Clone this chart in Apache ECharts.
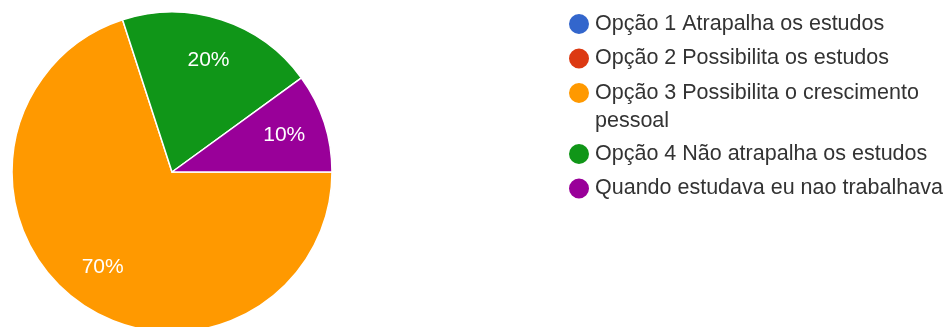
<!DOCTYPE html>
<html>
<head>
<meta charset="utf-8">
<script src="https://cdn.jsdelivr.net/npm/echarts@6/dist/echarts.min.js"></script>
<style>
html,body{margin:0;padding:0;background:#fff;}
#chart{width:947px;height:327px;}
</style>
</head>
<body>
<div id="chart"></div>
<script>
const categories = [
  'Opção 1 Atrapalha os estudos',
  'Opção 2 Possibilita os estudos',
  'Opção 3 Possibilita o crescimento pessoal',
  'Opção 4 Não atrapalha os estudos',
  'Quando estudava eu nao trabalhava'
];
const values = [0, 0, 70, 20, 10];
const colors = ['#3366cc', '#dc3912', '#ff9900', '#109618', '#990099'];

const chart = echarts.init(document.getElementById('chart'));
const font = 'Arial, "Liberation Sans", Helvetica, sans-serif';

const mainData = categories.map((n, i) => ({
  name: n, value: values[i], itemStyle: { color: colors[i] }
}));
const labelData = categories.map((n, i) => ({ name: n, value: values[i] }));

const LH = 28;
const legendText = { fontSize: 21.5, color: '#333', fontFamily: font, lineHeight: LH };
const legendBase = {
  orient: 'vertical', left: 567, padding: 0, itemGap: 6.5,
  itemWidth: 22, itemHeight: 22, itemTextGap: 9, icon: 'circle',
  selectedMode: false, textStyle: legendText
};

chart.setOption({
  animation: false,
  legend: [
    Object.assign({}, legendBase, {
      top: 24 - LH / 2,
      data: [
        { name: categories[0] },
        { name: categories[1] },
        { name: categories[2], textStyle: { width: 360, overflow: 'break', height: LH, rich: { x: {} } } }
      ]
    }),
    Object.assign({}, legendBase, {
      top: 154 - LH / 2,
      data: [{ name: categories[3] }, { name: categories[4] }]
    })
  ],
  series: [
    {
      type: 'pie',
      center: [172, 172],
      radius: [0, 160],
      startAngle: 0,
      clockwise: true,
      silent: true,
      label: { show: false },
      labelLine: { show: false },
      itemStyle: { borderColor: '#fff', borderWidth: 1.5 },
      data: mainData
    },
    {
      type: 'pie',
      center: [172, 172],
      radius: [70, 160],
      startAngle: 0,
      clockwise: true,
      silent: true,
      legendHoverLink: false,
      itemStyle: { color: 'rgba(0,0,0,0)', borderWidth: 0 },
      label: {
        show: true, position: 'inside', color: '#fff', fontSize: 21, fontFamily: font,
        formatter: p => p.value ? Math.round(p.percent) + '%' : ''
      },
      labelLine: { show: false },
      data: labelData
    }
  ]
});
</script>
</body>
</html>
